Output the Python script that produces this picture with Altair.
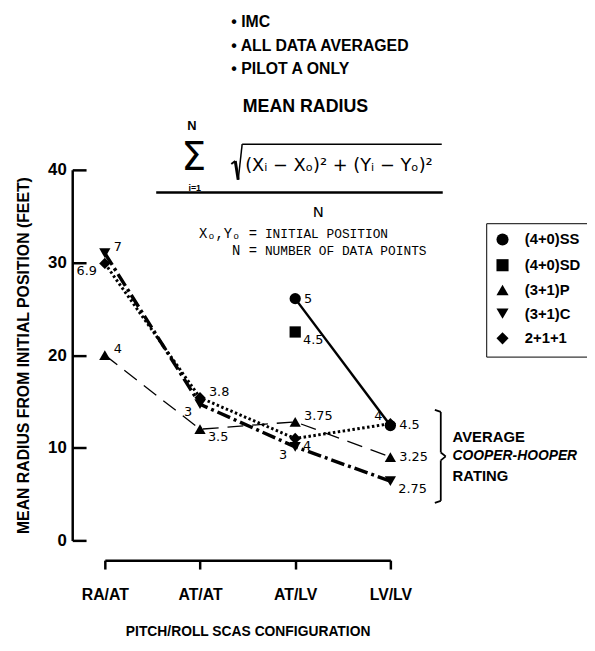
import altair as alt
import pandas as pd

# ---------------- data ----------------
configs = ["RA/AT", "AT/AT", "AT/LV", "LV/LV"]
series_names = ["(4+0)SS", "(4+0)SD", "(3+1)P", "(3+1)C", "2+1+1"]
series_shapes = ["circle", "square", "triangle-up", "triangle-down", "diamond"]

ss_vals = [None, None, 26.1, 12.4]
ss_rate = [None, None, "5", "4.5"]
sd_vals = [None, None, 22.5, None]
sd_rate = [None, None, "4.5", None]
p_vals = [20.0, 12.0, 12.8, 9.0]
p_rate = ["4", "3.5", "3.75", "3.25"]
c_vals = [31.0, 14.7, 10.1, 6.4]
c_rate = ["7", "3", "3", "2.75"]
d_vals = [29.9, 15.4, 11.0, 12.6]
d_rate = ["6.9", "3.8", "4", "4"]

y_ticks = [0, 10, 20, 30, 40]

# ---------------- styling ----------------
FONT = "Liberation Sans"
MONO = "Liberation Mono"
NUMF = "DejaVu Sans"

label_place = {
    ("(4+0)SS", "AT/LV"): "e", ("(4+0)SS", "LV/LV"): "e",
    ("(4+0)SD", "AT/LV"): "se",
    ("(3+1)P", "RA/AT"): "ne", ("(3+1)P", "AT/AT"): "se",
    ("(3+1)P", "AT/LV"): "ne", ("(3+1)P", "LV/LV"): "e",
    ("(3+1)C", "RA/AT"): "ne", ("(3+1)C", "AT/AT"): "sw",
    ("(3+1)C", "AT/LV"): "sw", ("(3+1)C", "LV/LV"): "se",
    ("2+1+1", "RA/AT"): "sw", ("2+1+1", "AT/AT"): "ne",
    ("2+1+1", "AT/LV"): "se", ("2+1+1", "LV/LV"): "nw",
}
place_style = {
    "e": (9, 0, "left"), "ne": (9, -6, "left"), "se": (8, 8, "left"),
    "sw": (-8, 8, "right"), "nw": (-8, -8, "right"),
}
line_style = {
    "(4+0)SS": dict(strokeWidth=2.5),
    "(3+1)P": dict(strokeWidth=1.3, strokeDash=[16, 9]),
    "(3+1)C": dict(strokeWidth=3.5, strokeDash=[14, 4, 3, 4]),
    "2+1+1": dict(strokeWidth=3, strokeDash=[2.5, 2.5]),
}

rows = []
for name, vals, rates in [("(4+0)SS", ss_vals, ss_rate), ("(4+0)SD", sd_vals, sd_rate),
                          ("(3+1)P", p_vals, p_rate), ("(3+1)C", c_vals, c_rate),
                          ("2+1+1", d_vals, d_rate)]:
    for cfg, v, r in zip(configs, vals, rates):
        if v is None:
            continue
        rows.append({"config": cfg, "series": name, "value": v, "rating": r,
                     "place": label_place[(name, cfg)]})
df = pd.DataFrame(rows)

# plot origin in page pixels (used only for annotation placement)
OX, OY = 106, 168
W, H = 289, 375

xenc = alt.X(
    "config:N",
    scale=alt.Scale(type="point", domain=configs, padding=0),
    axis=alt.Axis(title="PITCH/ROLL SCAS CONFIGURATION", offset=20, labelAngle=0,
                  domainWidth=2.5, tickWidth=2.5, tickSize=9, labelPadding=18,
                  labelFont=FONT, labelFontWeight="bold", labelFontSize=16,
                  titleFont=FONT, titleFontWeight="bold", titleFontSize=14,
                  titlePadding=22, grid=False),
)
yscale = alt.Scale(domain=[0, 40], nice=False, zero=True)

axisB = alt.Axis(orient="left", offset=33, values=y_ticks, ticks=False, domainWidth=2.5,
                 labelPadding=6, labelFont=FONT, labelFontWeight="bold", labelFontSize=17,
                 title="MEAN RADIUS FROM INITIAL POSITION (FEET)", titleFont=FONT,
                 titleFontWeight="bold", titleFontSize=16, titlePadding=16, grid=False)
axisA = alt.Axis(orient="left", offset=19, values=y_ticks, domain=False, labels=False,
                 tickSize=14, tickWidth=2.5, title=None, grid=False)


def yenc(axis=None):
    return alt.Y("value:Q", scale=yscale, axis=axis)


layers = []
first = True
for name in ["(3+1)P", "(4+0)SS", "(3+1)C", "2+1+1"]:
    st = line_style[name]
    layers.append(
        alt.Chart(df).transform_filter(alt.datum.series == name)
        .mark_line(color="black", strokeCap="butt", **st)
        .encode(x=xenc, y=yenc(axisB if first else None))
    )
    first = False

layers.append(
    alt.Chart(df).mark_point(filled=True, size=130, opacity=1, color="black")
    .encode(
        x=xenc, y=yenc(axisA),
        shape=alt.Shape("series:N",
                        scale=alt.Scale(domain=series_names, range=series_shapes),
                        legend=alt.Legend(title=None, orient="none", legendX=386, legendY=54,
                                          strokeColor="black", padding=9, cornerRadius=0,
                                          labelFont=FONT, labelFontWeight="bold",
                                          labelFontSize=15, labelColor="black",
                                          symbolSize=150, symbolFillColor="black",
                                          symbolStrokeColor="black", rowPadding=7,
                                          labelOffset=15)),
    )
)

for key, (dx, dy, al) in place_style.items():
    layers.append(
        alt.Chart(df).transform_filter(alt.datum.place == key)
        .mark_text(dx=dx, dy=dy, align=al, baseline="middle", font=NUMF, fontSize=13,
                   color="black")
        .encode(x=xenc, y=yenc(), text="rating:N")
    )


def note(text, x, y, size=14, weight="bold", font=FONT, align="left", style="normal"):
    return (alt.Chart(pd.DataFrame({"t": [text]}))
            .mark_text(font=font, fontSize=size, fontWeight=weight, align=align,
                       baseline="middle", fontStyle=style, color="black")
            .encode(x=alt.value(x - OX), y=alt.value(y - OY), text="t:N"))


def seg(x1, y1, x2, y2, w=2.0):
    return (alt.Chart(pd.DataFrame({"t": [0]}))
            .mark_rule(color="black", strokeWidth=w)
            .encode(x=alt.value(x1 - OX), x2=alt.value(x2 - OX),
                    y=alt.value(y1 - OY), y2=alt.value(y2 - OY)))


layers += [
    note("• IMC", 234, 18, 16),
    note("• ALL DATA AVERAGED", 234, 43, 16),
    note("• PILOT A ONLY", 234, 66, 16),
    note("MEAN RADIUS", 309, 104, 18, align="center"),
    note("N", 194, 124, 13, align="center"),
    note("Σ", 196, 156, 40, weight="normal", font=NUMF, align="center"),
    note("i=1", 197, 186, 9, align="center"),
    seg(234, 162, 238, 159, 2.0),
    seg(238, 159, 241, 178, 3.0),
    seg(241, 178, 245, 142, 1.5),
    seg(245, 142, 447, 142, 1.5),
    note("(Xᵢ − Xₒ)² + (Yᵢ − Yₒ)²", 248, 164, 18, weight="normal", font=NUMF),
    seg(158, 191, 448, 191, 2.5),
    note("N", 322, 211, 15, weight="normal", font=NUMF, align="center"),
    note("Xₒ,Yₒ =", 260, 233, 14, weight="normal", font=MONO, align="right"),
    note("INITIAL POSITION", 268, 233, 13, weight="normal", font=MONO),
    note("N =", 260, 250, 14, weight="normal", font=MONO, align="right"),
    note("NUMBER OF DATA POINTS", 268, 250, 13, weight="normal", font=MONO),
    # brace
    seg(440, 411, 446, 413, 1.8),
    seg(446, 413, 446, 454, 1.8),
    seg(446, 454, 451, 458, 1.8),
    seg(451, 458, 446, 462, 1.8),
    seg(446, 462, 446, 503, 1.8),
    seg(446, 503, 440, 505, 1.8),
    note("AVERAGE", 458, 438, 15),
    note("COOPER-HOOPER", 458, 458, 14, style="italic"),
    note("RATING", 458, 478, 15),
]

chart = (
    alt.layer(*layers)
    .resolve_axis(y="independent")
    .properties(width=W, height=H, autosize=alt.AutoSizeParams(type="none"),
                padding={"left": OX - 8, "top": OY - 8, "right": 199, "bottom": 98})
    .configure_view(stroke=None)
    .configure_axis(domainColor="black", tickColor="black", labelColor="black",
                    titleColor="black")
)

chart.save("out.html", embed_options={"renderer": "svg", "actions": False})
